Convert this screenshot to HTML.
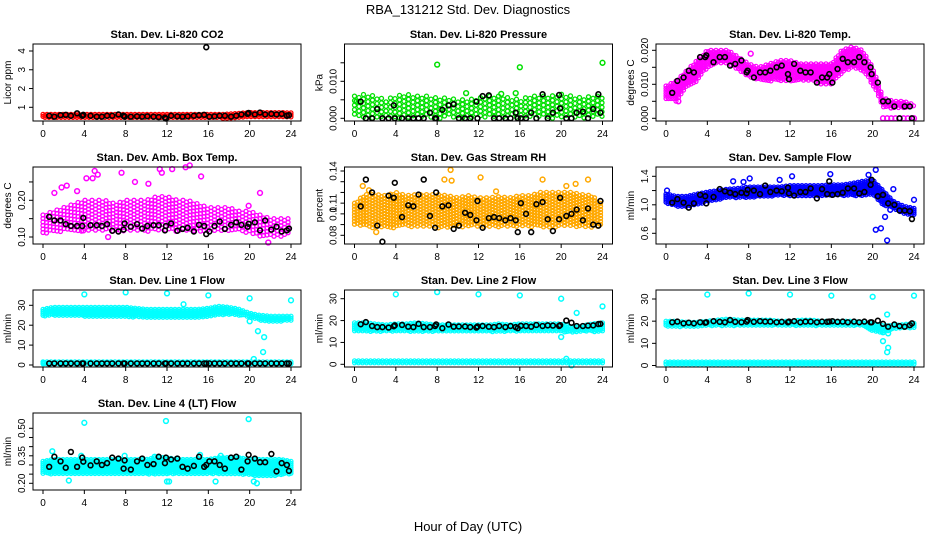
<!DOCTYPE html>
<html><head><meta charset="utf-8"><style>
html,body{margin:0;padding:0;background:#fff;}
svg{display:block;font-family:"Liberation Sans",Arial,sans-serif;}
</style></head><body>
<svg id="chart" width="936" height="540" viewBox="0 0 936 540" xmlns="http://www.w3.org/2000/svg">
<text x="468" y="14" text-anchor="middle" font-size="13">RBA_131212  Std. Dev. Diagnostics</text>
<text x="468" y="531" text-anchor="middle" font-size="13">Hour of Day (UTC)</text>
</svg>
<script>
const hours=[0.6,1.1,1.7,2.2,2.7,3.3,3.8,3.9,4.6,5.2,5.7,6.2,6.7,7.3,7.8,7.9,8.5,9.1,9.6,10.1,10.7,11.2,11.8,11.9,12.4,13.0,13.5,14.0,14.6,15.1,15.6,15.8,16.1,16.6,17.1,17.6,18.2,18.7,19.2,19.8,19.9,20.5,21.0,21.5,22.1,22.6,23.1,23.6,23.8];
const xTicks=[0,4,8,12,16,20,24];

const co2Black=[0.55,0.5,0.58,0.6,0.55,0.68,0.55,0.6,0.55,0.5,0.5,0.55,0.55,0.62,0.55,0.5,0.5,0.52,0.5,0.52,0.5,0.48,0.45,0.4,0.55,0.52,0.5,0.52,0.55,0.58,0.6,4.2,0.5,0.52,0.55,0.55,0.5,0.55,0.62,0.65,0.7,0.62,0.72,0.62,0.65,0.62,0.65,0.55,0.58];
const co2Lo=[0.42,0.42,0.42,0.42,0.42,0.42,0.42,0.42,0.42,0.42,0.42,0.42,0.42,0.42,0.42,0.42,0.42,0.42,0.42,0.45,0.48,0.48,0.48,0.48,0.48];
const co2Hi=[0.62,0.62,0.62,0.62,0.62,0.62,0.62,0.62,0.62,0.62,0.62,0.62,0.62,0.62,0.62,0.62,0.62,0.62,0.64,0.68,0.72,0.72,0.72,0.72,0.7];
const co2OutX=[],co2OutY=[];

const presBlack=[0.0045,0,0,0.0025,0,0,0.0035,0,0,0,0,0,0,0.0015,0,0,0.0023,0.0035,0.0038,0,0,0,0.0045,0,0.006,0.0062,0,0,0,0,0.0015,0,0,0,0.0015,0,0.0065,0,0.0015,0.0063,0.0027,0,0,0.0015,0.0018,0,0.0025,0.0065,0.0015];
const presLo=[0,0,0,0,0,0,0,0,0,0,0,0,0,0,0,0,0,0,0,0,0,0,0,0,0];
const presHi=[0.006,0.0065,0.006,0.005,0.006,0.0065,0.006,0.006,0.0055,0.0055,0.005,0.005,0.0055,0.006,0.006,0.0055,0.005,0.006,0.006,0.006,0.0065,0.006,0.0055,0.006,0.006];
const presOutX=[8,16,24,0.2,10.8,14.2,15.6];
const presOutY=[0.0145,0.0138,0.015,0.0045,0.0068,0.0066,0.0068];

const tempBlack=[0.0075,0.011,0.012,0.014,0.0135,0.018,0.018,0.0185,0.0165,0.018,0.018,0.0155,0.016,0.017,0.0135,0.014,0.012,0.0135,0.0135,0.014,0.015,0.0155,0.013,0.0115,0.016,0.014,0.0135,0.0135,0.0105,0.012,0.012,0.013,0.0105,0.0145,0.0175,0.0165,0.0165,0.018,0.0165,0.015,0.013,0.0105,0.005,0.005,0.0035,0.0,0.0035,0.0035,0.0];
const tempLo=[0.0055,0.005,0.009,0.011,0.015,0.016,0.016,0.014,0.012,0.011,0.011,0.011,0.011,0.011,0.011,0.010,0.010,0.013,0.015,0.014,0.010,0.003,0.003,0.003,0.003];
const tempHi=[0.0095,0.011,0.014,0.017,0.020,0.020,0.020,0.018,0.016,0.015,0.016,0.017,0.017,0.016,0.016,0.016,0.016,0.020,0.021,0.020,0.015,0.006,0.005,0.005,0.004];
const tempOutX=[21,21.4,21.8,22.2,22.6,23,23.4,23.8,24,1.2,8.2];
const tempOutY=[0,0,0,0,0,0,0,0,0,0.005,0.019];

const ambBlack=[0.155,0.145,0.145,0.135,0.13,0.13,0.13,0.152,0.132,0.132,0.13,0.135,0.117,0.115,0.12,0.137,0.128,0.135,0.123,0.13,0.132,0.132,0.118,0.13,0.137,0.117,0.122,0.125,0.115,0.133,0.13,0.108,0.115,0.13,0.142,0.122,0.133,0.14,0.133,0.128,0.136,0.14,0.118,0.145,0.12,0.128,0.115,0.118,0.123];
const ambLo=[0.11,0.11,0.115,0.115,0.115,0.115,0.115,0.115,0.115,0.115,0.115,0.115,0.115,0.115,0.115,0.115,0.115,0.115,0.115,0.115,0.11,0.10,0.10,0.10,0.11];
const ambHi=[0.16,0.17,0.18,0.19,0.2,0.2,0.2,0.19,0.2,0.2,0.2,0.21,0.21,0.2,0.2,0.19,0.18,0.18,0.18,0.17,0.17,0.16,0.15,0.15,0.15];
const ambOutX=[1.1,1.8,2.3,3.3,4.2,4.8,5.0,5.3,7.6,8.9,10.2,11.3,11.5,12.5,13.8,14.2,15.3,6.3,21.0,21.8,3.9,14.6,19.9];
const ambOutY=[0.22,0.235,0.24,0.225,0.26,0.26,0.28,0.27,0.275,0.25,0.245,0.285,0.275,0.285,0.29,0.295,0.265,0.10,0.22,0.085,0.118,0.118,0.185];

const rhBlack=[0.107,0.132,0.12,0.089,0.074,0.117,0.115,0.129,0.097,0.108,0.107,0.118,0.132,0.098,0.087,0.12,0.107,0.108,0.086,0.089,0.101,0.099,0.094,0.112,0.087,0.096,0.097,0.096,0.094,0.096,0.094,0.083,0.11,0.1,0.083,0.109,0.111,0.095,0.084,0.095,0.115,0.098,0.1,0.104,0.094,0.105,0.09,0.089,0.112];
const rhLo=[0.09,0.088,0.087,0.087,0.087,0.088,0.088,0.088,0.087,0.087,0.088,0.088,0.088,0.088,0.088,0.088,0.088,0.088,0.087,0.087,0.088,0.088,0.088,0.087,0.09];
const rhHi=[0.11,0.118,0.118,0.117,0.12,0.117,0.118,0.118,0.118,0.117,0.115,0.117,0.115,0.115,0.116,0.115,0.117,0.117,0.12,0.12,0.12,0.12,0.118,0.117,0.108];
const rhOutX=[9.3,9.4,8.7,12.2,18.2,22.6,1.4,0.8,20.5,21.4,2.1,13.7];
const rhOutY=[0.141,0.131,0.132,0.134,0.132,0.132,0.122,0.126,0.126,0.128,0.083,0.121];

const flowBlack=[1.03,1.08,1.03,0.96,1.02,1.14,1.12,1.02,1.11,1.22,1.19,1.17,1.15,1.17,1.16,1.21,1.2,1.15,1.27,1.18,1.2,1.19,1.24,1.16,1.13,1.18,1.18,1.23,1.09,1.22,1.15,1.33,1.14,1.15,1.17,1.23,1.23,1.16,1.18,1.28,1.35,1.12,1.14,1.02,1.0,0.92,0.92,0.91,0.8];
const flowLo=[1.02,0.98,0.97,1.0,1.05,1.07,1.1,1.1,1.1,1.12,1.12,1.13,1.13,1.13,1.13,1.13,1.13,1.13,1.13,1.13,1.15,1.0,0.95,0.88,0.85];
const flowHi=[1.15,1.12,1.12,1.15,1.18,1.2,1.22,1.23,1.25,1.25,1.25,1.25,1.27,1.27,1.27,1.27,1.28,1.28,1.3,1.33,1.35,1.2,1.05,0.98,0.95];
const flowOutX=[0.1,6.5,7.5,8.1,11,12.2,15.9,19.6,20.3,20.3,20.8,21.2,21.4,21.7,24,22];
const flowOutY=[1.2,1.33,1.32,1.37,1.35,1.4,1.43,1.42,1.49,0.65,0.67,0.83,0.5,0.93,1.07,1.22];

const l1Black=[0.8,0.8,0.8,0.8,0.8,0.8,0.8,0.8,0.8,0.8,0.8,0.8,0.8,0.8,0.8,0.8,0.8,0.8,0.8,0.8,0.8,0.8,0.8,0.8,0.8,0.8,0.8,0.8,0.8,0.8,0.8,0.8,0.8,0.8,0.8,0.8,0.8,0.8,0.8,0.8,0.8,0.8,0.8,0.8,0.8,0.8,0.8,0.8,0.8];
const l1Lo=[24.5,25,25,25,24.5,24.5,24.5,24.5,24,24,24,24,24,24,24,24,24.5,25,25.5,25,24,22.5,22,22,22.5];
const l1Hi=[28,29,29,29,29,29,29,29,29,28.5,28,28,28,28,28,28,28.5,29.5,29,28,26,25,24.5,24.5,24.5];
const l1OutX=[4,8,12,16,20,24,20,20.4,20.8,21.4,21.3,13.6,0.1];
const l1OutY=[35.5,36.5,36,35,33.5,32.5,22,3,17,14,6.5,30.5,1];
const l2Black=[18.3,19.3,17.5,17,17,16.8,17.4,17.8,18,17.2,17,18.5,17,17,17.5,18.2,16.5,18.2,17.2,17.3,17.3,17,16.8,17.3,17.5,17.2,17,17.5,17,17.5,17,16.5,17.6,17.5,17.2,18,17.5,17.8,17.7,17.5,17.9,20,19,17.5,17.5,17.7,17.8,18.4,18.5];
const l2Lo=[15,15,15,15,15,15,15,15,15,15,15,15,15,15,15,15,15,15,15,15,15,14.5,15,15,15];
const l2Hi=[19,19,18.5,18,18.5,18.5,19,18.5,18,18,18,18,18,18,18.5,18,18.5,18.5,18.5,18.5,18.5,17,17.5,18.5,19];
const l2OutX=[4,8,12,16,20,20,21.5,24,20.5,21];
const l2OutY=[32,33,32,31.5,30,12.5,23.5,26.5,2.5,-0.5];
const l3Black=[19.5,19.8,19,19.3,19,19.5,19.3,19.5,20,19.7,19.5,20.5,19.7,19.5,19.8,20.5,19.7,20,19.8,19.8,19.5,19.7,19.5,19.8,20,19.5,19.8,19.8,19.5,19.8,19.7,19.8,20,19.7,19.8,19.5,19.8,19.5,19.8,19.5,19.5,20.2,18.8,17.5,18.5,17.8,17.5,18.2,19];
const l3Lo=[17.5,17.5,17.5,17.5,18,18,18,18,18,18,18,18,18,18,18,18,18,18,18,18,15.5,15,16.5,17,17];
const l3Hi=[20,20,19.5,19.5,20,20.5,21,20.5,20.5,20.5,20.5,20,20,20.5,20.5,20,20,20,20,19.5,19,18,18,18.5,19];
const l3OutX=[4,8,12,16,20,24,21.4,21,21.4,21.5,21,21.5];
const l3OutY=[32,32.5,32,31.5,31,31.5,23,11,6,8,15,14.5];
const l4Black=[0.29,0.345,0.32,0.285,0.371,0.29,0.34,0.318,0.298,0.32,0.30,0.31,0.34,0.335,0.28,0.325,0.275,0.32,0.335,0.30,0.305,0.345,0.31,0.34,0.33,0.335,0.29,0.28,0.295,0.345,0.29,0.3,0.32,0.32,0.30,0.28,0.34,0.345,0.275,0.32,0.355,0.335,0.315,0.315,0.36,0.265,0.31,0.3,0.268];
const l4Lo=[0.255,0.25,0.25,0.25,0.25,0.25,0.25,0.25,0.25,0.25,0.25,0.25,0.25,0.25,0.25,0.25,0.25,0.25,0.25,0.25,0.245,0.24,0.24,0.245,0.25];
const l4Hi=[0.32,0.33,0.33,0.33,0.33,0.33,0.33,0.33,0.33,0.33,0.33,0.34,0.34,0.33,0.33,0.33,0.33,0.34,0.34,0.34,0.33,0.33,0.33,0.33,0.32];
const l4OutX=[0.9,4,11.9,19.9,2.5,3.7,12,12.2,16.7,20.4,20.7,15.2,17.2,7.9,10.8];
const l4OutY=[0.375,0.53,0.54,0.55,0.215,0.35,0.21,0.21,0.21,0.21,0.2,0.355,0.35,0.35,0.345];
const bottomRowLo=[0.3,0.3,0.3,0.3,0.3,0.3,0.3,0.3,0.3,0.3,0.3,0.3,0.3,0.3,0.3,0.3,0.3,0.3,0.3,0.3,0.3,0.3,0.3,0.3,0.3];
const bottomRowHi=[1.6,1.6,1.6,1.6,1.6,1.6,1.6,1.6,1.6,1.6,1.6,1.6,1.6,1.6,1.6,1.6,1.6,1.6,1.6,1.6,1.6,1.6,1.6,1.6,1.6];

const NS="http://www.w3.org/2000/svg";
const svg=document.getElementById('chart');
function mk(tag,attrs,parent){const e=document.createElementNS(NS,tag);for(const k in attrs)e.setAttribute(k,attrs[k]);(parent||svg).appendChild(e);return e;}

const panels=[
 {key:'co2',title:'Stan. Dev. Li-820 CO2',ylab:'Licor ppm',col:0,row:0,v1:1,p1:63.3,v2:4,p2:7,ticks:[1,2,3,4],labels:['1','2','3','4'],color:'#ff0000',black:co2Black,lo:co2Lo,hi:co2Hi,ox:co2OutX,oy:co2OutY,dx:2,dy:2},
 {key:'pressure',title:'Stan. Dev. Li-820 Pressure',ylab:'kPa',col:1,row:0,v1:0,p1:74.3,v2:0.01,p2:37.3,ticks:[0,0.005,0.01,0.015],labels:['0.000','','0.010',''],color:'#00e000',black:presBlack,lo:presLo,hi:presHi,ox:presOutX,oy:presOutY,dx:4.5,dy:4.5,sw:1.3},
 {key:'temp',title:'Stan. Dev. Li-820 Temp.',ylab:'degrees C',col:2,row:0,v1:0,p1:74.3,v2:0.02,p2:6.3,ticks:[0,0.005,0.01,0.015,0.02],labels:['0.000','','0.010','','0.020'],color:'#ff00ff',black:tempBlack,lo:tempLo,hi:tempHi,ox:tempOutX,oy:tempOutY,dx:2.5,dy:2.5},
 {key:'amb',title:'Stan. Dev. Amb. Box Temp.',ylab:'degrees C',col:0,row:1,v1:0.1,p1:70,v2:0.2,p2:33.3,ticks:[0.1,0.15,0.2,0.25],labels:['0.10','','0.20',''],color:'#ff00ff',black:ambBlack,lo:ambLo,hi:ambHi,ox:ambOutX,oy:ambOutY,dx:3.5,dy:3.5,sw:1.3},
 {key:'rh',title:'Stan. Dev. Gas Stream RH',ylab:'percent',col:1,row:1,v1:0.08,p1:68.3,v2:0.14,p2:4,ticks:[0.08,0.09,0.1,0.11,0.12,0.13,0.14],labels:['0.08','','0.1','0.11','','','0.14'],color:'#ffa800',black:rhBlack,lo:rhLo,hi:rhHi,ox:rhOutX,oy:rhOutY,dx:3,dy:3,sw:1.3},
 {key:'sampleflow',title:'Stan. Dev. Sample Flow',ylab:'ml/min',col:2,row:1,v1:0.6,p1:66.3,v2:1.4,p2:9.3,ticks:[0.6,0.8,1.0,1.2,1.4],labels:['0.6','','1.0','','1.4'],color:'#0000ff',black:flowBlack,lo:flowLo,hi:flowHi,ox:flowOutX,oy:flowOutY,dx:2,dy:2},
 {key:'line1',title:'Stan. Dev. Line 1 Flow',ylab:'ml/min',col:0,row:2,v1:0,p1:75,v2:30,p2:15.3,ticks:[0,10,20,30],labels:['0','10','20','30'],color:'#00ffff',black:l1Black,lo:l1Lo,hi:l1Hi,lo2:bottomRowLo,hi2:bottomRowHi,ox:l1OutX,oy:l1OutY,dx:2,dy:2},
 {key:'line2',title:'Stan. Dev. Line 2 Flow',ylab:'ml/min',col:1,row:2,v1:0,p1:74.3,v2:30,p2:8.7,ticks:[0,10,20,30],labels:['0','10','20','30'],color:'#00ffff',black:l2Black,lo:l2Lo,hi:l2Hi,lo2:bottomRowLo,hi2:bottomRowHi,ox:l2OutX,oy:l2OutY,dx:2,dy:2},
 {key:'line3',title:'Stan. Dev. Line 3 Flow',ylab:'ml/min',col:2,row:2,v1:0,p1:75.5,v2:30,p2:9,ticks:[0,10,20,30],labels:['0','10','20','30'],color:'#00ffff',black:l3Black,lo:l3Lo,hi:l3Hi,lo2:bottomRowLo,hi2:bottomRowHi,ox:l3OutX,oy:l3OutY,dx:2,dy:2},
 {key:'line4',title:'Stan. Dev. Line 4 (LT) Flow',ylab:'ml/min',col:0,row:3,v1:0.2,p1:70.3,v2:0.5,p2:15.3,ticks:[0.2,0.25,0.3,0.35,0.4,0.45,0.5],labels:['0.20','','','0.35','','','0.50'],color:'#00ffff',black:l4Black,lo:l4Lo,hi:l4Hi,ox:l4OutX,oy:l4OutY,dx:2,dy:2}
];
const colX=[33,344.5,656], W=268, H=77;

panels.forEach(p=>{
  const g=mk('g',{});
  
  
  const bx=colX[p.col], by=44+123*p.row;
  const xs=h=>bx+10+h*(248/24);
  const ys=v=>by+p.p1+(v-p.v1)*(p.p2-p.p1)/(p.v2-p.v1);
  const t=mk('text',{x:bx+W/2,y:by-6,'text-anchor':'middle','font-size':'11','font-weight':'bold'},g);
  t.textContent=p.title;
  
  
  const bandG=mk('g',{},g);
  
  
  function drawBand(lo,hi){
    let col=0;
    for(let px=xs(0);px<=xs(24)+0.1;px+=p.dx){
      const h=(px-xs(0))/(248/24);
      const i=Math.min(23,Math.floor(h)), f=h-i;
      const l=lo[i]+(lo[i+1]-lo[i])*f, u=hi[i]+(hi[i+1]-hi[i])*f;
      const y1=ys(u), y2=ys(l);
      const off=(col%2)*p.dy/2; col++;
      for(let py=y1+off;py<=y2+0.1;py+=p.dy){
        mk('circle',{cx:px.toFixed(1),cy:py.toFixed(1),r:2,fill:'none',stroke:p.color,'stroke-width':p.sw||1.2},bandG);
      }
    }
  }
  drawBand(p.lo,p.hi);
  if(p.lo2) drawBand(p.lo2,p.hi2);
  p.ox.forEach((x,i)=>{
    const c=mk('circle',{cx:xs(x),cy:ys(p.oy[i]),r:2.4,fill:'none',stroke:p.color,'stroke-width':1.5},g);
    
    
  });
  p.black.forEach((v,i)=>{
    const c=mk('circle',{cx:xs(hours[i]),cy:ys(v),r:2.4,fill:'none',stroke:'#000','stroke-width':1.6},g);
    
    
  });
  const r=mk('rect',{x:bx,y:by,width:W,height:H,fill:'none',stroke:'#000','stroke-width':1},g);
  
  
  const xa=mk('g',{},g);
  
  
  xTicks.forEach(h=>{
    mk('line',{x1:xs(h),x2:xs(h),y1:by+H,y2:by+H+4,stroke:'#000'},xa);
    const tl=mk('text',{x:xs(h),y:by+H+16,'text-anchor':'middle','font-size':'10'},xa);
    tl.textContent=h;
  });
  const ya=mk('g',{},g);
  
  
  p.ticks.forEach((v,i)=>{
    const y=ys(v);
    mk('line',{x1:bx-4,x2:bx,y1:y,y2:y,stroke:'#000'},ya);
    if(p.labels[i]){
      const tl=mk('text',{x:bx-8,y:y,'text-anchor':'middle','font-size':'10',transform:`rotate(-90 ${bx-8} ${y})`},ya);
      tl.textContent=p.labels[i];
    }
  });
  const yl=mk('text',{x:bx-22,y:by+H/2,'text-anchor':'middle','font-size':'10',transform:`rotate(-90 ${bx-22} ${by+H/2})`},g);
  yl.textContent=p.ylab;
  
  
});
</script>
</body></html>
